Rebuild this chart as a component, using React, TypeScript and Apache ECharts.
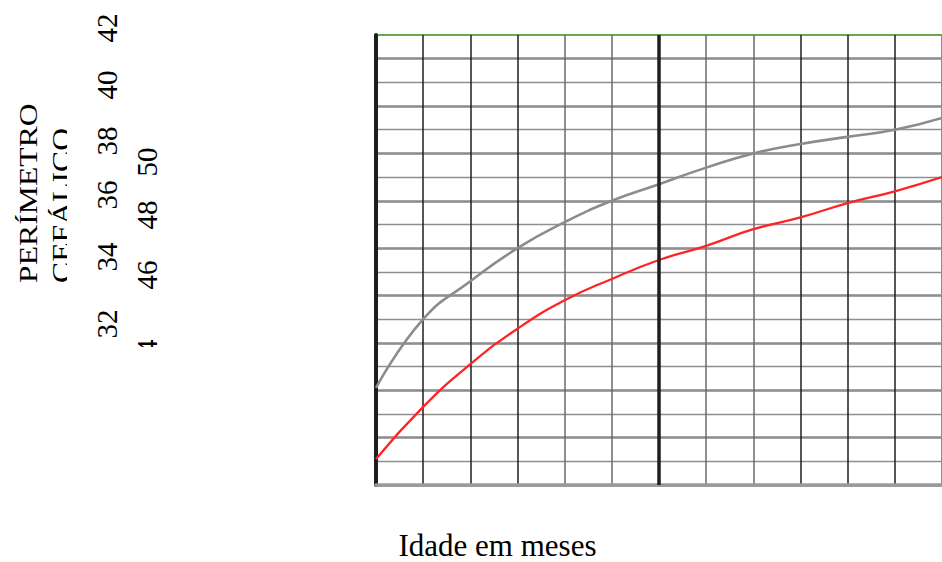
import React, { useEffect, useRef } from "react";
import * as echarts from "echarts";

// ---- data ----
const months = [0, 1, 2, 3, 4, 5, 6, 7, 8, 9, 10, 11, 12];
const grayCurve = [34.1, 37.0, 38.6, 40.0, 41.1, 42.0, 42.7, 43.4, 44.0, 44.4, 44.7, 45.0, 45.5];
const redCurve = [31.1, 33.3, 35.1, 36.6, 37.8, 38.7, 39.5, 40.1, 40.8, 41.3, 41.9, 42.4, 43.0];
const yTitleLines = ["PERÍMETRO", "CEFÁLICO"];
const leftTicksRow1 = ["32", "34", "36", "38", "40", "42"];
const leftTicksRow2 = ["44", "46", "48", "50"];
const xTitle = "Idade em meses";

// ---- layout (not data) ----
const row1Y = [324, 257, 195, 141, 85, 28];
const row2Y = [354, 275, 215, 162];
const DARK = "#1e1e1e";
const MID = "#6a6a6a";
const xSplitColors = [DARK, DARK, DARK, DARK, MID, MID, DARK, MID, MID, DARK, DARK, DARK, DARK];
const FONT = '"Liberation Serif", "Times New Roman", serif';

export default function App() {
  const ref = useRef<HTMLDivElement>(null);

  useEffect(() => {
    if (!ref.current) return;
    const chart = echarts.init(ref.current, undefined, { renderer: "svg" });

    const graphic: any[] = [];
    yTitleLines.forEach((t, i) => {
      graphic.push({
        type: "text",
        x: i === 0 ? 28.5 : 61.5,
        y: 283,
        rotation: Math.PI / 2,
        scaleX: 1.22,
        style: { text: t, font: `26px ${FONT}`, fill: "#000", textAlign: "left", textVerticalAlign: "middle" },
      });
    });
    leftTicksRow1.forEach((t, i) => {
      graphic.push({
        type: "text",
        x: 107,
        y: row1Y[i],
        rotation: Math.PI / 2,
        style: { text: t, font: `29px ${FONT}`, fill: "#000", textAlign: "center", textVerticalAlign: "middle" },
      });
    });
    leftTicksRow2.forEach((t, i) => {
      graphic.push({
        type: "text",
        x: 147,
        y: row2Y[i],
        rotation: Math.PI / 2,
        style: { text: t, font: `29px ${FONT}`, fill: "#000", textAlign: "center", textVerticalAlign: "middle" },
      });
    });
    // clipping masks (text boxes cut off in the reference)
    graphic.push({ type: "rect", shape: { x: 67, y: 90, width: 27, height: 200 }, style: { fill: "#fff" } });
    graphic.push({ type: "rect", shape: { x: 125, y: 347, width: 45, height: 60 }, style: { fill: "#fff" } });
    graphic.push({
      type: "text",
      x: 497.5,
      y: 545,
      style: { text: xTitle, font: `31px ${FONT}`, fill: "#000", textAlign: "center", textVerticalAlign: "middle" },
    });

    const option: any = {
      animation: false,
      grid: {
        left: 376,
        top: 35,
        width: 566,
        height: 450,
        show: true,
        borderColor: "#6aa84f",
        borderWidth: 2,
        backgroundColor: "transparent",
      },
      xAxis: [
        {
          type: "value",
          min: 0,
          max: 12,
          interval: 1,
          axisLine: { show: true, onZero: false, lineStyle: { color: "#9a9a9a", width: 3.5 } },
          axisTick: { show: false },
          axisLabel: { show: false },
          splitLine: { show: true, showMaxLine: false, lineStyle: { color: xSplitColors, width: 1.5 } },
        },
      ],
      yAxis: [
        {
          type: "value",
          min: 30,
          max: 49,
          interval: 1,
          axisLine: { show: true, onZero: false, lineStyle: { color: DARK, width: 4 } },
          axisTick: { show: false },
          axisLabel: { show: false },
          splitLine: { show: true, showMaxLine: false, lineStyle: { color: "#8f8f8f", width: 1.3 } },
        },
        {
          type: "value",
          min: 30,
          max: 49,
          interval: 2,
          position: "left",
          axisLine: { show: false },
          axisTick: { show: false },
          axisLabel: { show: false },
          splitLine: { show: true, showMaxLine: false, lineStyle: { color: "#8f8f8f", width: 2.6 } },
        },
      ],
      series: [
        {
          type: "line",
          xAxisIndex: 0,
          yAxisIndex: 0,
          data: months.map((m, i) => [m, grayCurve[i]]),
          smooth: 0.5,
          symbol: "none",
          lineStyle: { color: "#8c8c8c", width: 2.6 },
          markLine: {
            silent: true,
            symbol: "none",
            label: { show: false },
            lineStyle: { color: DARK, width: 3.5, type: "solid" },
            data: [{ xAxis: 6 }],
          },
        },
        {
          type: "line",
          xAxisIndex: 0,
          yAxisIndex: 0,
          data: months.map((m, i) => [m, redCurve[i]]),
          smooth: 0.5,
          symbol: "none",
          lineStyle: { color: "#ff2424", width: 2.3 },
        },
      ],
      graphic,
    };
    chart.setOption(option);
    return () => chart.dispose();
  }, []);

  return <div ref={ref} style={{ position: "absolute", left: 0, top: 0, width: 942, height: 562 }} />;
}
